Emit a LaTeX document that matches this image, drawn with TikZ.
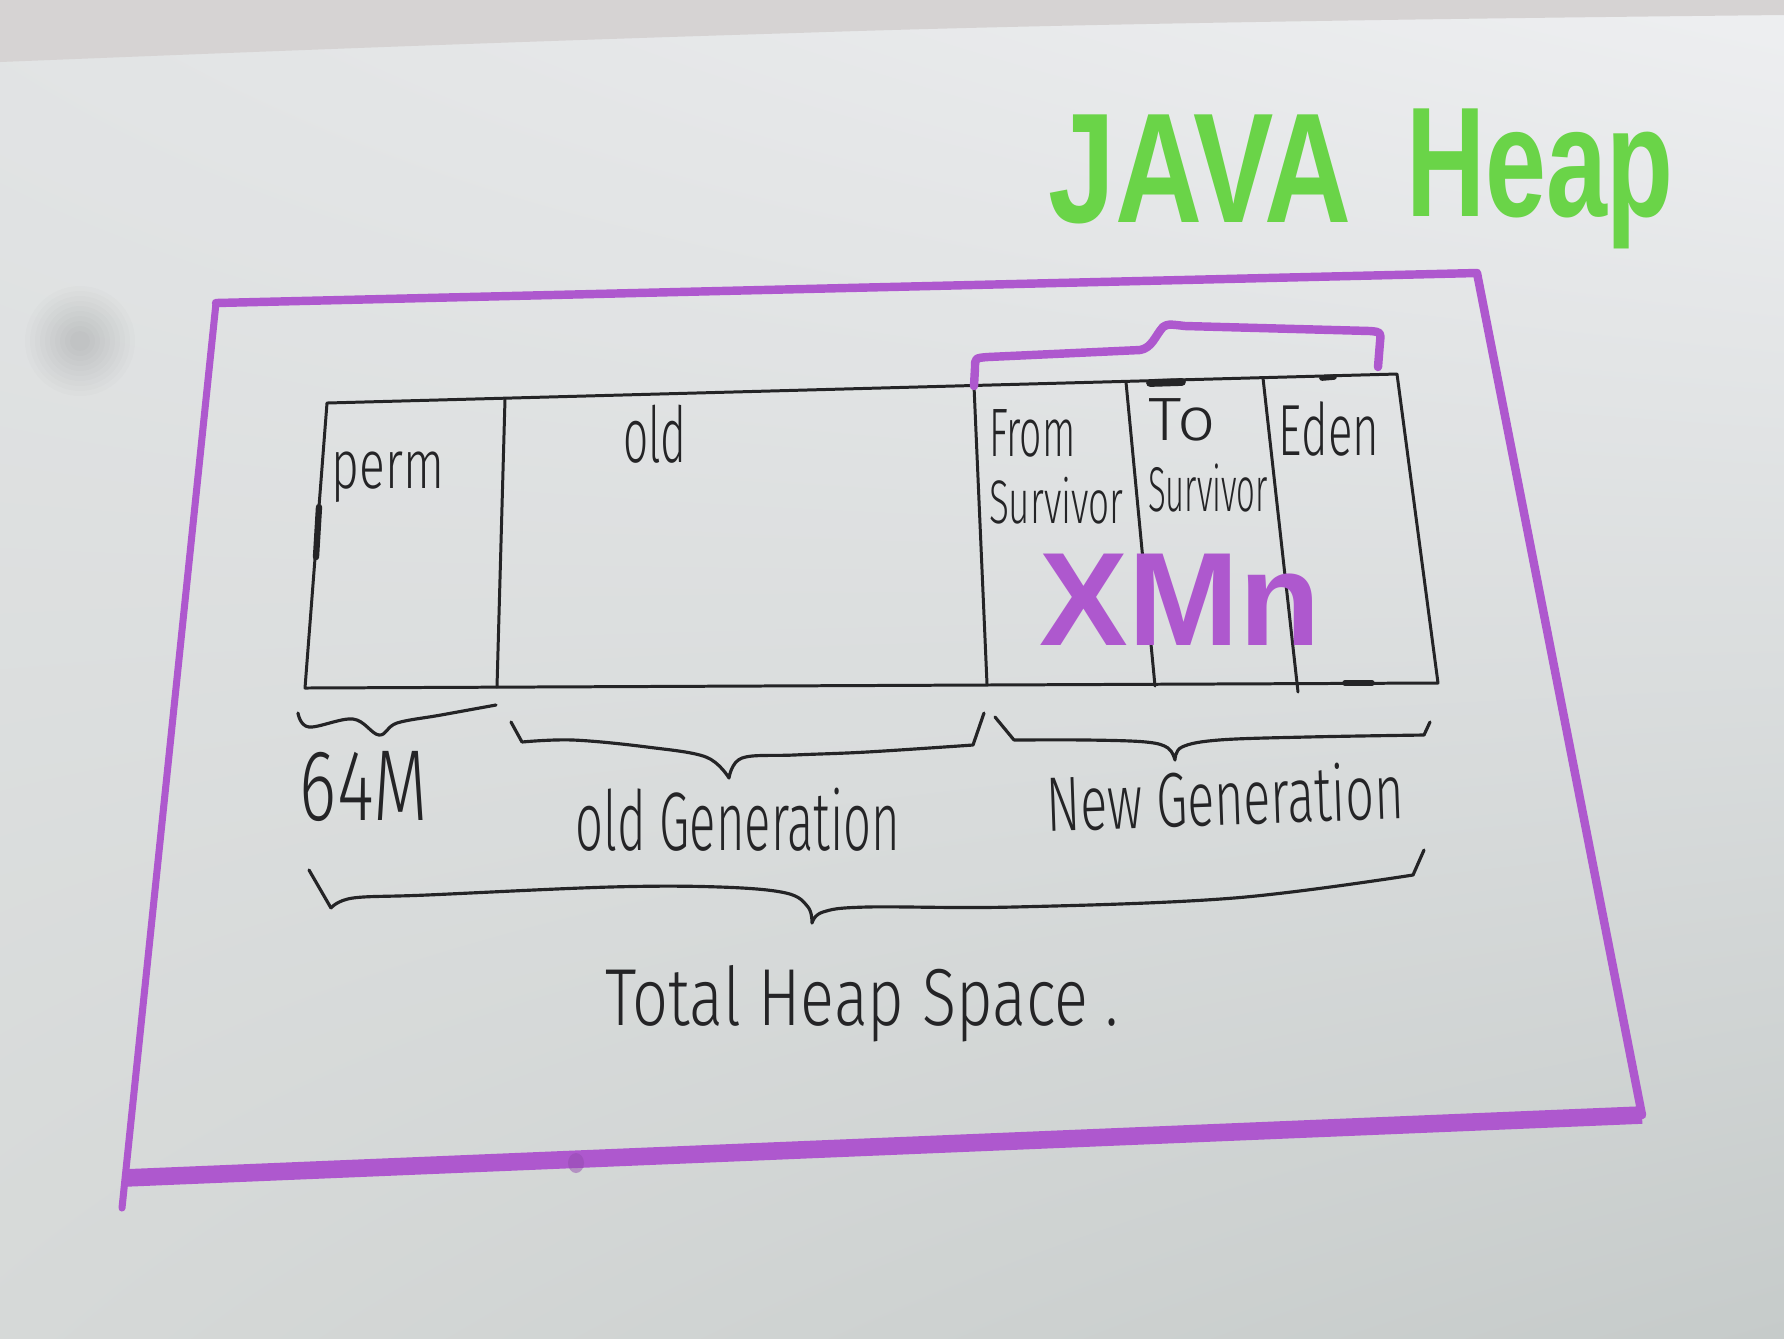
\documentclass[tikz,border=0pt]{standalone}
\usepackage{fontspec}
\usetikzlibrary{shadings}
\newfontfamily\penfont{Fira Sans Light}
\newfontfamily\markerfont{Liberation Sans}

\definecolor{paperlight}{RGB}{238,239,241}
\definecolor{papermid}{RGB}{226,228,229}
\definecolor{paperlow}{RGB}{214,217,216}
\definecolor{paperdark}{RGB}{198,203,202}
\definecolor{wallband}{RGB}{214,211,211}
\definecolor{ink}{RGB}{36,36,38}
\definecolor{markerpurple}{RGB}{174,88,206}
\definecolor{markergreen}{RGB}{106,212,72}

% condensed pen lettering: #1 horizontal squeeze, #2 size in pt, #3 text
\newcommand{\pen}[3]{\scalebox{#1}[1]{\fontsize{#2pt}{#2pt}\selectfont\penfont #3}}
% felt-tip lettering
\newcommand{\marker}[3]{\scalebox{#1}[1]{\fontsize{#2pt}{#2pt}\selectfont\markerfont\bfseries #3}}

\tikzset{
  inkline/.style={draw=ink, line width=0.85pt, line cap=round, line join=round},
  markline/.style={draw=markerpurple, line width=2.4pt, line cap=round, line join=round},
  pentext/.style={text=ink, inner sep=0pt, anchor=base},
  cellpair/.style={text=ink, inner sep=0pt, outer sep=0pt, align=left, anchor=north west},
  bracepath/.style={inkline, line width=0.9pt},
}

\begin{document}
\begin{tikzpicture}[x=0.01cm,y=-0.01cm]
\useasboundingbox (0,0) rectangle (1784,1338);

% sheet of paper and the wall strip above it
\shade[shading=bilinear interpolation, upper left=papermid, upper right=paperlight,
       lower left=paperlow, lower right=paperdark]
  (0,0) rectangle (1784,1338);
\fill[wallband] (0,0) -- (1784,0) -- (1784,15)
  .. controls (1300,20) and (1000,26) .. (796,33)
  .. controls (500,42) and (250,52) .. (0,62) -- cycle;

% soft smudge on the lens
\foreach \r in {0.55,0.50,...,0.05}
  \fill[black, opacity=0.011] (80,341) circle (\r cm);

% outer marker frame
\coordinate (fTL) at (216,303);
\coordinate (fTR) at (1477,273);
\coordinate (fBR) at (1642,1115);
\coordinate (fBL) at (124,1178);
\coordinate (fTail) at (122,1208);
\draw[markline] (fTL) -- (fTR) -- (fBR);
\draw[markline, line width=2pt] (fTL) -- (fTail);
\draw[markerpurple, line width=5pt] (fBL) -- (fBR);
\fill[markerpurple!85!black, opacity=0.5] (576,1163) ellipse (0.08cm and 0.1cm);

% heap table
\coordinate (tTL) at (327,403);
\coordinate (tTR) at (1397,374);
\coordinate (tBR) at (1438,683);
\coordinate (tBL) at (305,688);
\draw[inkline] (tTL) -- (tTR) -- (tBR) -- (tBL) -- cycle;

\coordinate (d1t) at (505,399);  \coordinate (d1b) at (497,687);
\coordinate (d2t) at (974,386);  \coordinate (d2b) at (987,684);
\coordinate (d3t) at (1126,382); \coordinate (d3b) at (1155,686);
\coordinate (d4t) at (1263,378); \coordinate (d4b) at (1298,692);
\draw[inkline] (d1t) -- (d1b);
\draw[inkline] (d2t) -- (d2b);
\draw[inkline] (d3t) -- (d3b);
\draw[inkline] (d4t) -- (d4b);

% heavier pen spots
\draw[ink, line width=2.2pt, line cap=round] (1150,383) -- (1182,382);
\draw[ink, line width=1.6pt, line cap=round] (1322,378) -- (1334,377);
\draw[ink, line width=1.6pt, line cap=round] (1345,683) -- (1372,683);
\draw[ink, line width=1.8pt, line cap=round] (319,507) -- (316,557);

% cell labels
\node[pentext] (perm) at (388,488) {\pen{0.7}{19.5}{perm}};
\node[pentext] (old)  at (655,462) {\pen{0.57}{22}{old}};
\node[cellpair, font=\fontsize{18pt}{18.8pt}\selectfont] (fromsurv) at (989,410)
  {\pen{0.57}{19.5}{From}\\\pen{0.6}{17.5}{Survivor}};
\node[cellpair, font=\fontsize{18pt}{20.2pt}\selectfont] (tosurv) at (1148,399)
  {\pen{1.1}{17.4}{To}\\\pen{0.52}{18}{Survivor}};
\node[pentext] (eden) at (1329,455) {\pen{0.63}{20.6}{Eden}};

% young-generation marker brace and label
\draw[markline] (d2t) -- (975,368) .. controls (975,358) .. (988,357)
  -- (1140,350) .. controls (1152,348) and (1155,336) .. (1163,327)
  .. controls (1168,324) .. (1185,326) -- (1370,331)
  .. controls (1381,332) .. (1380,342) -- (1378,367);
\node[text=markerpurple, inner sep=0pt, anchor=base] (xmn) at (1180,645)
  {\marker{1.0}{37.8}{XMn}};

% braces under the table
\draw[bracepath] plot[smooth, tension=0.6] coordinates
  {(298,713) (309,727) (353,719) (379,735) (397,723) (441,715) (496,705)};
\draw[bracepath] (511,722) -- (522,742)
  plot[smooth, tension=0.6] coordinates {(522,742) (573,740) (647,747) (706,757) (729,778)}
  plot[smooth, tension=0.6] coordinates {(729,778) (742,758) (794,755) (867,752) (973,745)}
  -- (984,713);
\draw[bracepath] (995,717) -- (1014,740)
  plot[smooth, tension=0.6] coordinates {(1014,740) (1087,740) (1146,742) (1168,748) (1175,760)}
  plot[smooth, tension=0.6] coordinates {(1175,760) (1182,747) (1219,740) (1307,737) (1424,735)}
  -- (1430,722);
\draw[bracepath] (309,870) -- (331,908)
  plot[smooth, tension=0.6] coordinates {(331,908) (353,898) (427,895) (610,887) (720,887) (786,893) (808,907) (812,923)}
  plot[smooth, tension=0.6] coordinates {(812,923) (823,912) (867,907) (1014,907) (1234,898) (1413,875)}
  -- (1424,850);

\node[pentext] (size) at (364,820) {\pen{0.7}{28.7}{64M}};
\node[pentext] (oldgen) at (738,850) {\pen{0.59}{23.6}{old Generation}};
\node[pentext, rotate=2] (newgen) at (1226,825) {\pen{0.65}{22}{New Generation}};
\node[pentext] (total) at (862,1025) {\pen{0.78}{23}{Total Heap Space .}};

% title
\node[text=markergreen, inner sep=0pt, anchor=base] (java) at (1200,222)
  {\marker{0.77}{44.5}{JAVA}};
\node[text=markergreen, inner sep=0pt, anchor=base] (heap) at (1540,216)
  {\marker{0.70}{44.5}{Heap}};
\end{tikzpicture}
\end{document}
